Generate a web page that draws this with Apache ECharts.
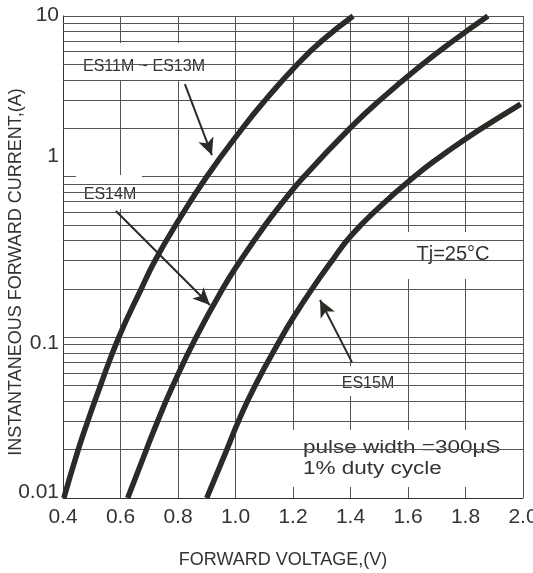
<!DOCTYPE html>
<html>
<head>
<meta charset="utf-8">
<script src="https://cdn.jsdelivr.net/npm/echarts@6/dist/echarts.min.js"></script>
<style>
  html, body { margin: 0; padding: 0; background: #fff; }
  #chart { width: 533px; height: 573px; }
</style>
</head>
<body>
<div id="chart"></div>
<script>
// forward voltage (V) vs instantaneous forward current (A)
const es11Volt = [0.403, 0.453, 0.486, 0.530, 0.594, 0.672, 0.720, 0.792, 0.900, 1.024, 1.104, 1.215, 1.300, 1.409];
const es11Amp  = [0.01, 0.02, 0.03, 0.05, 0.1, 0.2, 0.3, 0.5, 1, 2, 3, 5, 7, 10];

const es14Volt = [0.625, 0.690, 0.729, 0.782, 0.863, 0.955, 1.017, 1.103, 1.166, 1.238, 1.398, 1.503, 1.650, 1.757, 1.878];
const es14Amp  = [0.01, 0.02, 0.03, 0.05, 0.1, 0.2, 0.3, 0.5, 0.7, 1, 2, 3, 5, 7, 10];

const es15Volt = [0.900, 0.970, 1.010, 1.068, 1.160, 1.200, 1.266, 1.336, 1.402, 1.506, 1.622, 1.699, 1.805, 1.856, 1.992];
const es15Amp  = [0.01, 0.02, 0.03, 0.05, 0.1, 0.132, 0.2, 0.3, 0.43, 0.66, 1, 1.28, 1.74, 2, 2.83];

const yTickLabels = ['0.01', '0.1', '1', '10'];
const gridDecades = [0.01, 0.1, 1];
const gridSteps = [2, 3, 4, 5, 6, 7, 8, 9];

// arrows: [from, to] in (V, A)
const arrowEs11 = [[0.824, 3.77], [0.918, 1.36]];
const arrowEs14 = [[0.584, 0.611], [0.911, 0.159]];
const arrowEs15 = [[1.405, 0.0701], [1.294, 0.1706]];

const ink = '#2a2a27';
const gridColor = '#555';
const textColor = '#333';
const font = 'Liberation Sans, Arial, sans-serif';

function pairs(xs, ys) {
  return xs.map((x, i) => [x, ys[i]]);
}

const minorLines = [];
gridDecades.forEach(d => {
  gridSteps.forEach(s => minorLines.push({ yAxis: +(d * s).toPrecision(3) }));
});

function curve(name, xs, ys) {
  return {
    type: 'line',
    name: name,
    data: pairs(xs, ys),
    smooth: true,
    showSymbol: false,
    clip: true,
    z: 5,
    lineStyle: { color: ink, width: 5.5 },
    silent: true
  };
}

function arrow(a) {
  return [{ coord: a[0] }, { coord: a[1] }];
}

function box(x, y, w, h) {
  return { type: 'rect', z: 3, shape: { x: x, y: y, width: w, height: h }, style: { fill: '#fff' }, silent: true };
}

function label(text, x, y, size) {
  return {
    type: 'text', z: 4, x: x, y: y, silent: true,
    style: { text: text, fill: textColor, font: size + 'px ' + font, align: 'center', verticalAlign: 'middle' }
  };
}

const chart = echarts.init(document.getElementById('chart'));

const option = {
  animation: false,
  backgroundColor: '#fff',
  grid: { left: 63, right: 10, top: 16, bottom: 75, containLabel: false, outerBoundsMode: 'none' },
  xAxis: {
    type: 'value',
    min: 0.4,
    max: 2.0,
    interval: 0.2,
    axisLine: { show: true, lineStyle: { color: '#333', width: 1 } },
    axisTick: { show: false },
    splitLine: { show: true, lineStyle: { color: gridColor, width: 1 } },
    axisLabel: {
      fontSize: 21, fontFamily: font, color: textColor, margin: 9,
      formatter: v => v.toFixed(1)
    }
  },
  yAxis: {
    type: 'log',
    logBase: 10,
    min: 0.01,
    max: 10,
    axisLine: { show: true, lineStyle: { color: '#333', width: 1 } },
    axisTick: { show: false },
    splitLine: { show: true, lineStyle: { color: gridColor, width: 1 } },
    axisLabel: {
      margin: 4,
      formatter: v => {
        const i = Math.round(Math.log10(v)) + 2;
        const key = ['lo', 'dn', 'up', 'top'][i];
        return '{' + key + '|' + yTickLabels[i] + '}';
      },
      rich: {
        lo: { fontSize: 21, fontFamily: font, color: textColor, padding: [0, 0, 12, 0] },
        dn: { fontSize: 21, fontFamily: font, color: textColor, padding: [12, 0, 0, 0] },
        up: { fontSize: 21, fontFamily: font, color: textColor, padding: [0, 0, 40, 0] },
        top: { fontSize: 21, fontFamily: font, color: textColor, padding: [0, 0, 2, 0] }
      }
    }
  },
  series: [
    {
      type: 'line',
      name: 'grid',
      data: [],
      z: 1,
      silent: true,
      markLine: {
        silent: true,
        symbol: 'none',
        label: { show: false },
        lineStyle: { color: gridColor, width: 1, type: 'solid' },
        data: minorLines
      }
    },
    curve('ES11M ~ ES13M', es11Volt, es11Amp),
    curve('ES14M', es14Volt, es14Amp),
    curve('ES15M', es15Volt, es15Amp),
    {
      type: 'line',
      name: 'arrows',
      data: [],
      z: 6,
      silent: true,
      markLine: {
        silent: true,
        symbol: ['none', 'arrow'],
        symbolSize: [12, 17],
        label: { show: false },
        lineStyle: { color: ink, width: 2, type: 'solid' },
        itemStyle: { color: ink },
        data: [arrow(arrowEs11), arrow(arrowEs14), arrow(arrowEs15)]
      }
    }
  ],
  graphic: [
    box(76, 43, 139, 38),
    label('ES11M ~ ES13M', 144, 67, 16),
    box(76, 175, 66, 34),
    label('ES14M', 110, 195, 16),
    box(405, 232, 95, 47),
    label('Tj=25°C', 453, 254, 20),
    box(337, 366, 63, 30),
    label('ES15M', 368, 384, 16),
    box(292, 430, 221, 57),
    {
      type: 'text', z: 4, x: 303, y: 459, scaleX: 1.25, silent: true,
      style: {
        text: 'pulse width =300μS\n1% duty cycle', fill: textColor,
        font: '18px ' + font, lineHeight: 21, align: 'left', verticalAlign: 'middle'
      }
    },
    {
      type: 'text', x: 283, y: 560, silent: true,
      style: { text: 'FORWARD VOLTAGE,(V)', fill: textColor, font: '18px ' + font, align: 'center', verticalAlign: 'middle' }
    },
    {
      type: 'text', x: 16, y: 272, rotation: Math.PI / 2, silent: true,
      style: { text: 'INSTANTANEOUS FORWARD CURRENT,(A)', fill: textColor, font: '18px ' + font, align: 'center', verticalAlign: 'middle' }
    }
  ]
};

chart.setOption(option);
</script>
</body>
</html>
